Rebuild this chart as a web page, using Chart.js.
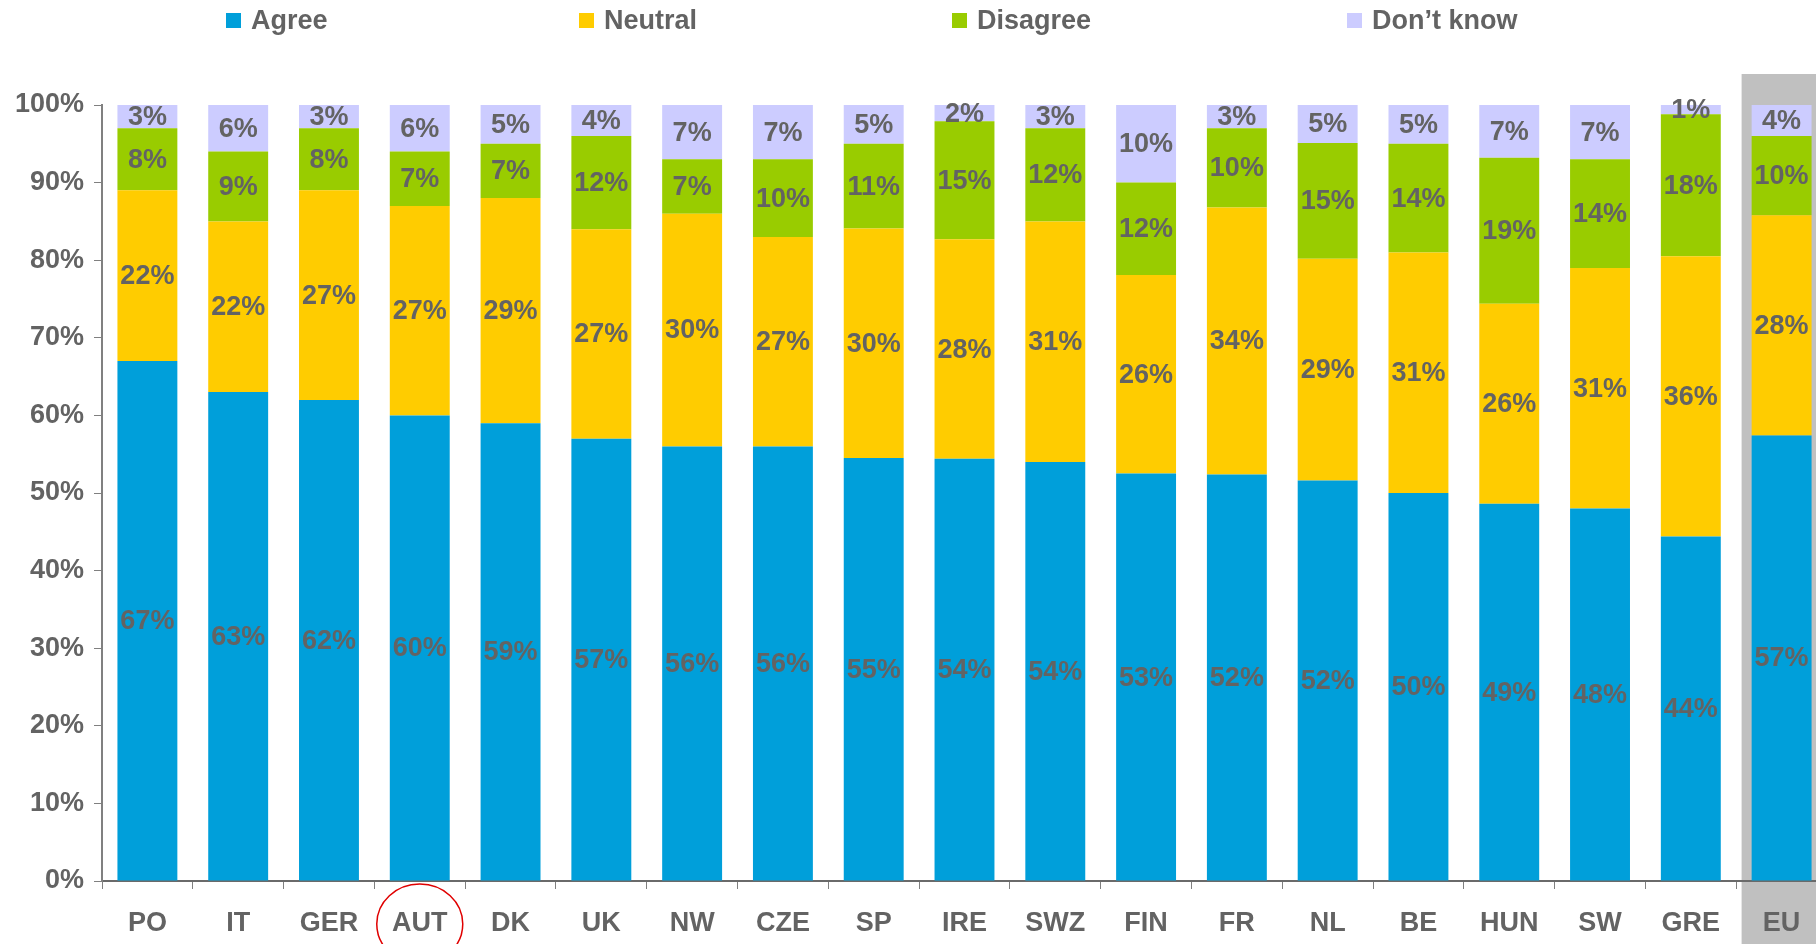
<!DOCTYPE html>
<html>
<head>
<meta charset="utf-8">
<script src="https://cdn.jsdelivr.net/npm/chart.js@4.4.0/dist/chart.umd.min.js"></script>
<style>
  html, body { margin: 0; padding: 0; background: #fff; overflow: hidden; width: 1816px; height: 944px; }
  #wrap { position: absolute; left: 0; top: 0; width: 1830px; height: 944px; }
  .leg { position: absolute; top: 5px; font: bold 27px "Liberation Sans", Arial, sans-serif; color: #636363; white-space: nowrap; }
  .leg span { display: inline-block; width: 15px; height: 15px; margin-right: 10px; vertical-align: 1px; }
</style>
</head>
<body>
<div id="wrap"><canvas id="myChart" width="1830" height="944"></canvas></div>
<div class="leg" style="left:226px"><span style="background:#009fda"></span>Agree</div>
<div class="leg" style="left:579px"><span style="background:#ffcc00"></span>Neutral</div>
<div class="leg" style="left:952px"><span style="background:#99cc00"></span>Disagree</div>
<div class="leg" style="left:1347px"><span style="background:#ccccff"></span>Don’t know</div>
<script>
// Datos
const paises    = ['PO', 'IT', 'GER', 'AUT', 'DK', 'UK', 'NW', 'CZE', 'SP', 'IRE', 'SWZ', 'FIN', 'FR', 'NL', 'BE', 'HUN', 'SW', 'GRE', 'EU'];
const agree     = [67, 63, 62, 60, 59, 57, 56, 56, 54.5, 54.4, 54, 52.5, 52.4, 51.6, 50, 48.6, 48, 44.4, 57.4];
const neutral   = [22, 22, 27, 27, 29, 27, 30, 27, 29.6, 28.3, 31, 25.6, 34.4, 28.6, 31, 25.8, 31, 36.1, 28.4];
const disagree  = [8, 9, 8, 7, 7, 12, 7, 10, 10.9, 15.2, 12, 11.9, 10.2, 14.9, 14, 18.8, 14, 18.3, 10.2];
const dontKnow  = [3, 6, 3, 6, 5, 4, 7, 7, 5, 2.1, 3, 10, 3, 4.9, 5, 6.8, 7, 1.2, 4];
const yTicks    = [0, 10, 20, 30, 40, 50, 60, 70, 80, 90, 100];

const gris = '#636363';
const fuente = '"Liberation Sans", Arial, sans-serif';

// fondo gris para EU
const bandaEU = {
    id: 'bandaEU',
    beforeDraw(chart) {
        const x = chart.scales.x;
        const i = paises.indexOf('EU');
        const cx = x.getPixelForValue(i);
        const ctx = chart.ctx;
        ctx.save();
        ctx.fillStyle = '#c0c0c0';
        ctx.fillRect(cx - 40, 74, 200, chart.height - 74);
        ctx.restore();
    }
};

// etiquetas de porcentaje
const etiquetas = {
    id: 'etiquetas',
    afterDatasetsDraw(chart) {
        const ctx = chart.ctx;
        ctx.save();
        ctx.font = 'bold 27px ' + fuente;
        ctx.fillStyle = gris;
        ctx.textAlign = 'center';
        ctx.textBaseline = 'middle';
        chart.data.datasets.forEach((ds, d) => {
            chart.getDatasetMeta(d).data.forEach((bar, i) => {
                const y = (bar.y + bar.base) / 2;
                ctx.fillText(Math.round(ds.data[i]) + '%', bar.x, y + 1);
            });
        });
        ctx.restore();
    }
};

// circulo rojo en AUT
const circulo = {
    id: 'circulo',
    afterDraw(chart) {
        const x = chart.scales.x.getPixelForValue(paises.indexOf('AUT'));
        const ctx = chart.ctx;
        ctx.save();
        ctx.strokeStyle = '#e00000';
        ctx.lineWidth = 1.5;
        ctx.beginPath();
        ctx.ellipse(x, 924, 43, 40, 0, 0, Math.PI * 2);
        ctx.stroke();
        ctx.restore();
    }
};

const ctx = document.getElementById('myChart');

new Chart(ctx, {
    type: 'bar',
    data: {
        labels: paises,
        datasets: [
            { label: 'Agree', data: agree, backgroundColor: '#009fda' },
            { label: 'Neutral', data: neutral, backgroundColor: '#ffcc00' },
            { label: 'Disagree', data: disagree, backgroundColor: '#99cc00' },
            { label: 'Don’t know', data: dontKnow, backgroundColor: '#ccccff' }
        ]
    },
    options: {
        responsive: false,
        animation: false,
        barPercentage: 0.66,
        categoryPercentage: 1,
        layout: { padding: { top: 105, right: 3, left: 0, bottom: 0 } },
        plugins: {
            legend: { display: false },
            tooltip: { enabled: false }
        },
        scales: {
            x: {
                stacked: true,
                afterFit(scale) { scale.height = 63; },
                grid: { drawOnChartArea: false, tickLength: 8, color: '#808080', offset: true },
                border: { color: '#6a6a6a', width: 2 },
                ticks: { color: gris, font: { family: fuente, size: 27, weight: 'bold' }, padding: 18 }
            },
            y: {
                stacked: true,
                min: 0,
                max: 100,
                afterFit(scale) { scale.width = 102; },
                afterBuildTicks(scale) { scale.ticks = yTicks.map(v => ({ value: v })); },
                grid: { drawOnChartArea: false, tickLength: 8, color: '#808080' },
                border: { color: '#808080', width: 2 },
                ticks: {
                    color: gris,
                    font: { family: fuente, size: 27, weight: 'bold' },
                    padding: 10,
                    callback: v => v + '%'
                }
            }
        }
    },
    plugins: [bandaEU, etiquetas, circulo]
});
</script>
</body>
</html>
